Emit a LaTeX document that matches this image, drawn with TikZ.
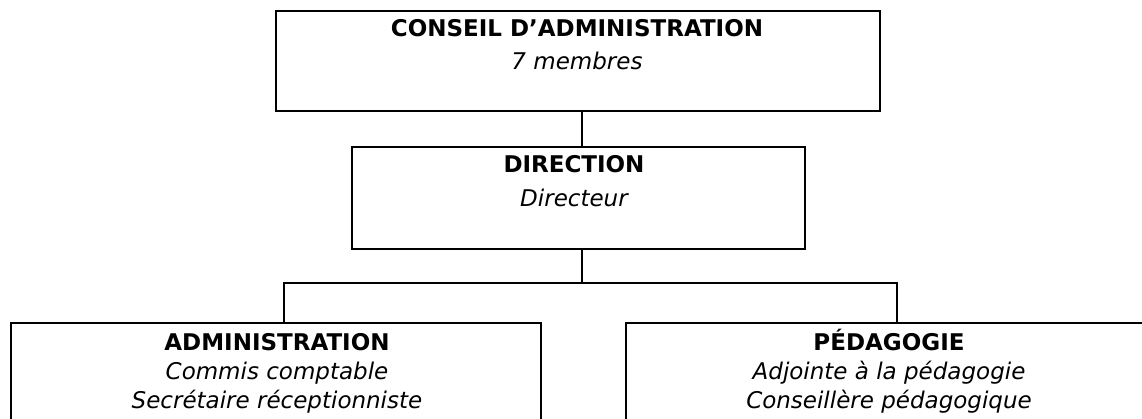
\documentclass[tikz,border=0pt]{standalone}
\usepackage{fontspec}
\setmainfont{DejaVu Sans}
\usetikzlibrary{calc}
\tikzset{
  orgbox/.style={draw=black, line width=2.2pt, fill=none, inner sep=0pt, anchor=north west},
  title/.style={anchor=base, inner sep=0pt, font=\fontsize{23}{27}\selectfont\bfseries},
  role/.style={anchor=base, inner sep=0pt, font=\fontsize{23}{27}\selectfont\itshape},
  link/.style={draw=black, line width=2.2pt}
}
\begin{document}
\begin{tikzpicture}[x=1pt,y=-1pt]
\useasboundingbox (0,0) rectangle (1142,419);
\fill[white] (0,0) rectangle (1142,419);
\clip (0,0) rectangle (1142,419);
% boxes
\node[orgbox, minimum width=604pt, minimum height=100pt] (ca) at (275,10) {};
\node[orgbox, minimum width=453pt, minimum height=102pt] (dir) at (351,146) {};
\node[orgbox, minimum width=530pt, minimum height=130pt] (adm) at (10,322) {};
\node[orgbox, minimum width=530pt, minimum height=130pt] (ped) at (625,322) {};
% junctions
\coordinate (j) at (582,283);
\coordinate (jl) at (284,283);
\coordinate (jr) at (897,283);
% connectors
\draw[link] (j |- ca.south) -- (j |- dir.north);
\draw[link] (j |- dir.south) -- (j);
\draw[link] (jl |- adm.north) -- (jl) -- (jr) -- (jr |- ped.north);
% texts
\node[title] (catitle) at (577,37) {CONSEIL D’ADMINISTRATION};
\node[role] (carole) at (577,70) {7 membres};
\node[title] (dirtitle) at (574,173) {DIRECTION};
\node[role] (dirrole) at (574,207) {Directeur};
\node[title] (admtitle) at (277,350) {ADMINISTRATION};
\node[role] (admrole1) at (277,379) {Commis comptable};
\node[role] (admrole2) at (277,408) {Secrétaire réceptionniste};
\node[title] (pedtitle) at (889,350) {PÉDAGOGIE};
\node[role] (pedrole1) at (889,379) {Adjointe à la pédagogie};
\node[role] (pedrole2) at (889,408) {Conseillère pédagogique};
\end{tikzpicture}
\end{document}
